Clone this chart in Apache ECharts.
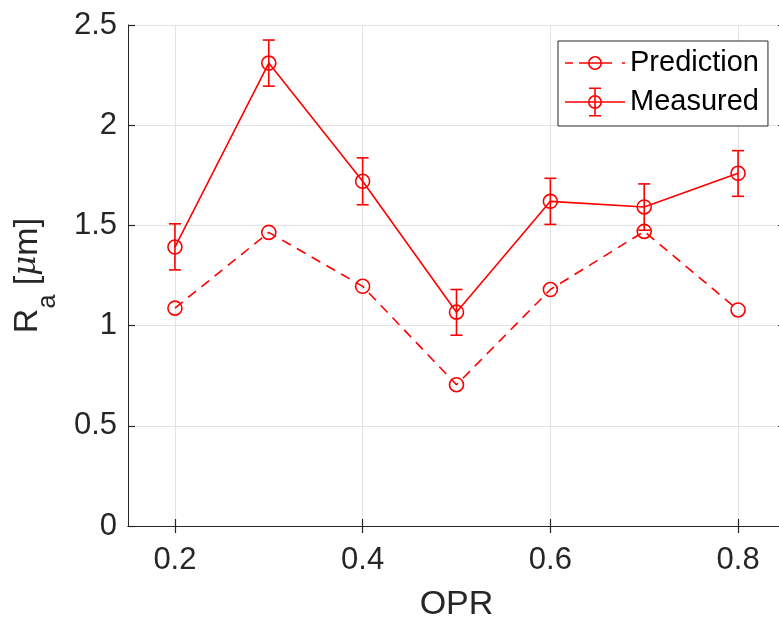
<!DOCTYPE html>
<html>
<head>
<meta charset="utf-8">
<script src="https://cdn.jsdelivr.net/npm/echarts@6/dist/echarts.min.js"></script>
<style>html,body{margin:0;padding:0;background:#fff;}#c{width:779px;height:621px;}</style>
</head>
<body>
<div id="c"></div>
<script>
var opr = [0.2, 0.3, 0.4, 0.5, 0.6, 0.7, 0.8];
var prediction = [1.087, 1.465, 1.196, 0.705, 1.18, 1.47, 1.078];
var measured = [1.392, 2.31, 1.72, 1.067, 1.62, 1.592, 1.76];
var measuredLow = [1.278, 2.195, 1.603, 0.952, 1.505, 1.476, 1.645];
var measuredHigh = [1.508, 2.425, 1.837, 1.18, 1.735, 1.707, 1.873];
var xTicks = [0.2, 0.4, 0.6, 0.8];
var yTicks = [0, 0.5, 1, 1.5, 2, 2.5];

var RED = '#ff0000';
var AX = '#262626';
var FONT = '"Liberation Sans", Arial, Helvetica, sans-serif';

var predData = opr.map(function (x, i) { return [x, prediction[i]]; });
var measData = opr.map(function (x, i) { return [x, measured[i]]; });
var errData = opr.map(function (x, i) { return [x, measuredLow[i], measuredHigh[i]]; });

// legend icons (60 x 29 box)
var RING = 'M37 14.5 A7 7 0 1 1 23 14.5 A7 7 0 1 1 37 14.5 Z M35.4 14.5 A5.4 5.4 0 1 0 24.6 14.5 A5.4 5.4 0 1 0 35.4 14.5 Z';
var ICON_MEAS = 'path://M0 13.7 H60 V15.3 H0 Z M29.2 0 H30.8 V29 H29.2 Z M24 0 H36 V1.6 H24 Z M24 27.4 H36 V29 H24 Z ' + RING;
var ICON_PRED = 'path://M30 0 L30 0 Z M30 29 L30 29 Z M0 13.7 H8 V15.3 H0 Z M14 13.7 H47 V15.3 H14 Z M57 13.7 H60 V15.3 H57 Z ' + RING;

var chart = echarts.init(document.getElementById('c'), null, {renderer: 'canvas'});

var xCommon = {
  type: 'value', min: 0.15, max: 0.85,
  axisLine: {show: true, lineStyle: {color: AX, width: 1}},
  axisTick: {show: true, inside: true, length: 7, customValues: xTicks, lineStyle: {color: AX, width: 1.2}},
  splitLine: {show: false}
};
var yCommon = {
  type: 'value', min: 0, max: 2.5, interval: 0.5,
  axisLine: {show: true, lineStyle: {color: AX, width: 1}},
  axisTick: {show: true, inside: true, length: 7, lineStyle: {color: AX, width: 1.2}},
  splitLine: {show: false}
};

chart.setOption({
  animation: false,
  backgroundColor: '#ffffff',
  grid: {left: 128, top: 25, width: 657, bottom: 95, containLabel: false, outerBoundsMode: 'none'},
  legend: {
    data: [
      {name: 'Prediction', icon: ICON_PRED, itemStyle: {color: RED, borderWidth: 0}},
      {name: 'Measured', icon: ICON_MEAS, itemStyle: {color: RED, borderWidth: 0}}
    ],
    orient: 'vertical',
    left: 558, top: 41,
    padding: [7.5, 9, 9.5, 7],
    itemGap: 10,
    itemWidth: 60, itemHeight: 29,
    borderColor: AX, borderWidth: 1,
    backgroundColor: '#ffffff',
    textStyle: {fontFamily: FONT, fontSize: 29, color: '#000000'}
  },
  xAxis: [
    Object.assign({}, xCommon, {
      position: 'bottom',
      name: 'OPR', nameLocation: 'middle', nameGap: 62,
      nameTextStyle: {fontFamily: FONT, fontSize: 34, color: AX},
      axisLabel: {show: true, customValues: xTicks, margin: 19, fontFamily: FONT, fontSize: 31, color: AX,
        formatter: function (v) { return String(Math.round(v * 10) / 10); }},
      splitLine: {show: true, lineStyle: {color: '#e3e3e3', width: 1}}
    }),
    Object.assign({}, xCommon, {position: 'top', axisLabel: {show: false}})
  ],
  yAxis: [
    Object.assign({}, yCommon, {
      position: 'left',
      name: '{r|R}{s|a}{t| [}{m|μ}{t|m]}',
      nameLocation: 'middle', nameGap: 67, nameRotate: 90,
      nameTextStyle: {
        fontFamily: FONT, color: AX,
        rich: {
          r: {fontFamily: FONT, fontSize: 34, color: AX, lineHeight: 34, verticalAlign: 'top'},
          s: {fontFamily: FONT, fontSize: 25, color: AX, lineHeight: 50, verticalAlign: 'bottom'},
          t: {fontFamily: FONT, fontSize: 34, color: AX, lineHeight: 34, verticalAlign: 'top'},
          m: {fontFamily: '"DejaVu Serif", "Liberation Serif", serif', fontStyle: 'italic', fontSize: 31, color: AX, lineHeight: 34, verticalAlign: 'top'}
        }
      },
      axisLabel: {show: true, margin: 11, fontFamily: FONT, fontSize: 31, color: AX,
        formatter: function (v) { return String(v); }},
      splitLine: {show: true, lineStyle: {color: '#e3e3e3', width: 1}}
    }),
    Object.assign({}, yCommon, {position: 'right', axisLabel: {show: false}})
  ],
  series: [
    {
      name: 'Prediction', type: 'line', data: predData,
      xAxisIndex: 0, yAxisIndex: 0,
      symbol: 'circle', symbolSize: 14,
      lineStyle: {color: RED, width: 1.6, type: [10, 7]},
      itemStyle: {color: 'rgba(255,255,255,0)', borderColor: RED, borderWidth: 1.6},
      z: 3
    },
    {
      name: 'Measured', type: 'line', data: measData,
      xAxisIndex: 0, yAxisIndex: 0,
      symbol: 'circle', symbolSize: 14,
      lineStyle: {color: RED, width: 1.6},
      itemStyle: {color: 'rgba(255,255,255,0)', borderColor: RED, borderWidth: 1.6},
      z: 3
    },
    {
      name: 'MeasuredErr', type: 'custom', data: errData,
      xAxisIndex: 0, yAxisIndex: 0,
      encode: {x: 0, y: [1, 2]},
      z: 4,
      renderItem: function (params, api) {
        var x = api.value(0);
        var lo = api.coord([x, api.value(1)]);
        var hi = api.coord([x, api.value(2)]);
        var hw = 6;
        var st = {stroke: RED, lineWidth: 1.6, fill: null};
        return {
          type: 'group',
          children: [
            {type: 'line', shape: {x1: lo[0], y1: lo[1], x2: hi[0], y2: hi[1]}, style: st},
            {type: 'line', shape: {x1: lo[0] - hw, y1: lo[1], x2: lo[0] + hw, y2: lo[1]}, style: st},
            {type: 'line', shape: {x1: hi[0] - hw, y1: hi[1], x2: hi[0] + hw, y2: hi[1]}, style: st}
          ]
        };
      }
    }
  ]
});
</script>
</body>
</html>
